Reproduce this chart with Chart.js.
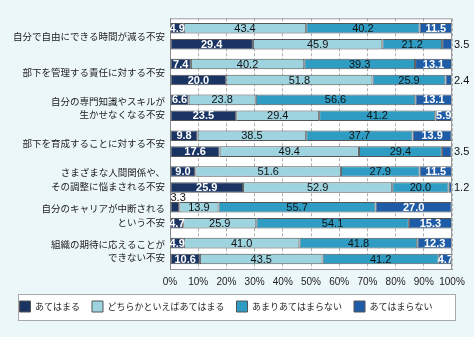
<!DOCTYPE html>
<html lang="ja">
<head>
<meta charset="utf-8">
<script src="https://cdn.jsdelivr.net/npm/chart.js@4.4.1/dist/chart.umd.min.js"></script>
<style>
    html, body { margin: 0; padding: 0; background: #ecf7f9; }
    canvas { display: block; }
</style>
</head>
<body>
<canvas id="myChart" width="474" height="337"></canvas>
<script>
const categories = [
    '自分で自由にできる時間が減る不安',
    '部下を管理する責任に対する不安',
    ['自分の専門知識やスキルが', '生かせなくなる不安'],
    '部下を育成することに対する不安',
    ['さまざまな人間関係や、', 'その調整に悩まされる不安'],
    ['自分のキャリアが中断される', 'という不安'],
    ['組織の期待に応えることが', 'できない不安']
];
const seriesNames = ['あてはまる', 'どちらかといえばあてはまる', 'あまりあてはまらない', 'あてはまらない'];

// upper bar of each pair
const upperAteha = [4.9, 7.4, 6.6, 9.8, 9.0, 3.3, 4.9];
const upperDochira = [43.4, 40.2, 23.8, 38.5, 51.6, 13.9, 41.0];
const upperAmari = [40.2, 39.3, 56.6, 37.7, 27.9, 55.7, 41.8];
const upperNai = [11.5, 13.1, 13.1, 13.9, 11.5, 27.0, 12.3];

// lower bar of each pair
const lowerAteha = [29.4, 20.0, 23.5, 17.6, 25.9, 4.7, 10.6];
const lowerDochira = [45.9, 51.8, 29.4, 49.4, 52.9, 25.9, 43.5];
const lowerAmari = [21.2, 25.9, 41.2, 29.4, 20.0, 54.1, 41.2];
const lowerNai = [3.5, 2.4, 5.9, 3.5, 1.2, 15.3, 4.7];

const colors = ['#1a3564', '#9ed3e0', '#2e9cc3', '#1f5ca8'];
const jpFont = "'Noto Sans CJK JP', sans-serif";
const numFont = "'Liberation Sans', Arial, sans-serif";

function makeSets(dataList, stack) {
    return seriesNames.map(function (name, i) {
        return {
            label: name,
            data: dataList[i],
            stack: stack,
            backgroundColor: colors[i],
            borderColor: '#555',
            borderWidth: 1,
            borderSkipped: false,
            categoryPercentage: 0.89,
            barPercentage: 0.66
        };
    });
}

const frame = {
    id: 'frame',
    beforeDraw: (chart) => {
        const { ctx, chartArea, legend } = chart;
        ctx.save();
        ctx.fillStyle = '#fff';
        ctx.fillRect(chartArea.left, chartArea.top, chartArea.right - chartArea.left, chartArea.bottom - chartArea.top);
        // legend frame
        const hb = legend.legendHitBoxes[0];
        const cy = hb.top + hb.height / 2;
        ctx.fillRect(18.5, Math.round(cy - 13) + 0.5, chart.width - 37, 26);
        ctx.strokeStyle = '#a9a9a9';
        ctx.lineWidth = 1;
        ctx.strokeRect(18.5, Math.round(cy - 13) + 0.5, chart.width - 37, 26);
        ctx.restore();
    },
    afterDraw: (chart) => {
        const { ctx, chartArea } = chart;
        ctx.save();
        ctx.strokeStyle = '#999';
        ctx.lineWidth = 1;
        ctx.beginPath();
        ctx.moveTo(chartArea.left, chartArea.top + 0.5);
        ctx.lineTo(chartArea.right - 0.5, chartArea.top + 0.5);
        ctx.lineTo(chartArea.right - 0.5, chartArea.bottom);
        ctx.stroke();
        ctx.restore();
    }
};

const valueLabels = {
    id: 'valueLabels',
    afterDatasetsDraw: (chart) => {
        const { ctx, chartArea } = chart;
        ctx.save();
        chart.data.datasets.forEach(function (ds, di) {
            const k = di % 4;
            const meta = chart.getDatasetMeta(di);
            meta.data.forEach(function (bar, j) {
                const v = ds.data[j];
                const p = bar.getProps(['x', 'y', 'base', 'height'], true);
                const txt = v.toFixed(1);
                if (v >= 4) {
                    ctx.font = (k === 0 || k === 3 ? 'bold ' : '') + '11px ' + numFont;
                    ctx.fillStyle = (k === 0 || k === 3) ? '#fff' : '#111';
                    ctx.textAlign = 'center';
                    ctx.textBaseline = 'middle';
                    ctx.fillText(txt, (p.x + p.base) / 2, p.y + 0.5);
                } else if (k === 3) {
                    ctx.font = '11px ' + numFont;
                    ctx.fillStyle = '#111';
                    ctx.textAlign = 'left';
                    ctx.textBaseline = 'middle';
                    ctx.fillText(txt, chartArea.right + 2, p.y + 0.5);
                } else {
                    ctx.font = '11px ' + numFont;
                    ctx.fillStyle = '#111';
                    ctx.textAlign = 'left';
                    ctx.textBaseline = 'bottom';
                    ctx.fillText(txt, Math.min(p.x, p.base), p.y - p.height / 2 + 1);
                }
            });
        });
        ctx.restore();
    }
};

function createChart() {
    const ctx = document.getElementById('myChart').getContext('2d');
    const datasets = makeSets([upperAteha, upperDochira, upperAmari, upperNai], 'upper')
        .concat(makeSets([lowerAteha, lowerDochira, lowerAmari, lowerNai], 'lower'));

    return new Chart(ctx, {
        type: 'bar',
        data: {
            labels: categories,
            datasets
        },
        options: {
            indexAxis: 'y',
            responsive: false,
            animation: false,
            layout: { padding: { top: 16, right: 22, left: 0, bottom: 15 } },
            scales: {
                x: {
                    stacked: true,
                    min: 0,
                    max: 100,
                    ticks: {
                        stepSize: 10,
                        autoSkip: false,
                        callback: (v) => v + '%',
                        font: { family: numFont, size: 10 },
                        color: '#222',
                        padding: 7,
                        maxRotation: 0
                    },
                    grid: { color: '#b0b0b0', drawTicks: false },
                    border: { color: '#999', dash: [3, 2] },
                    afterFit: (s) => { s.height = 20; }
                },
                y: {
                    stacked: true,
                    grid: { display: false, drawTicks: false },
                    border: { color: '#888' },
                    ticks: {
                        font: { family: jpFont, size: 9.5, lineHeight: 1.4 },
                        color: '#222',
                        padding: 5,
                        autoSkip: false
                    },
                    afterFit: (s) => { s.width = 170; }
                }
            },
            plugins: {
                legend: {
                    position: 'bottom',
                    labels: {
                        filter: (item) => item.datasetIndex < 4,
                        boxWidth: 11,
                        boxHeight: 11,
                        padding: 12,
                        color: '#222',
                        font: { family: jpFont, size: 9 }
                    }
                },
                tooltip: { enabled: false }
            }
        },
        plugins: [frame, valueLabels]
    });
}

createChart();
</script>
</body>
</html>
